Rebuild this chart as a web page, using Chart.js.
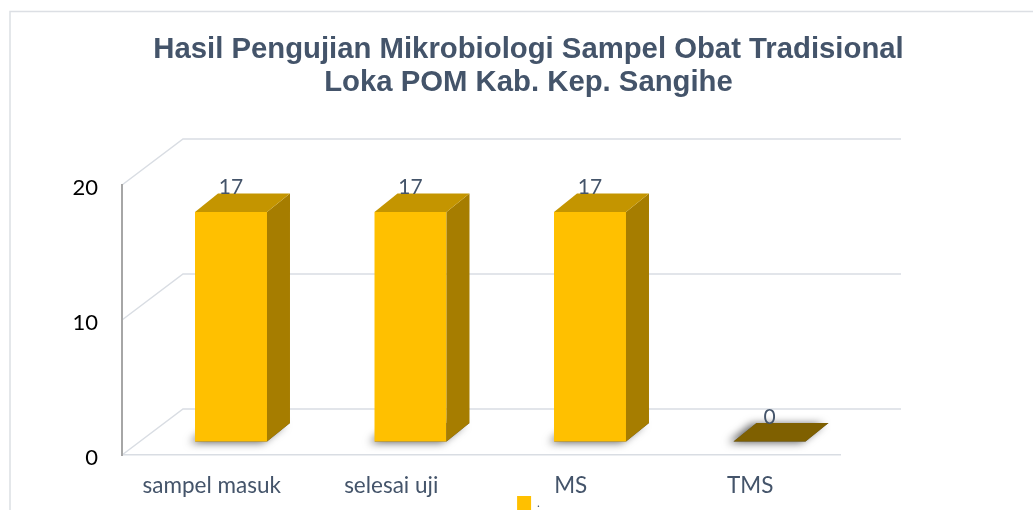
<!DOCTYPE html>
<html><head><meta charset="utf-8">
<script src="https://cdn.jsdelivr.net/npm/chart.js@4.4.0/dist/chart.umd.min.js"></script>
<style>
html,body{margin:0;padding:0;overflow:hidden;background:#fff;width:1033px;height:510px;}
#wrap{position:absolute;left:0;top:0;width:1033px;height:520px;}
</style></head><body>
<div id="wrap"><canvas id="c"></canvas></div>
<script>
// ---- data ----
const categories = ['sampel masuk', 'selesai uji', 'MS', 'TMS'];
const seriesName = '.';
const values = [17, 17, 17, 0];
const yTicks = [0, 10, 20];
const titleLines = ['Hasil Pengujian Mikrobiologi Sampel Obat Tradisional', 'Loka POM Kab. Kep. Sangihe'];

// ---- 3D style constants ----
const WALL_DX = 61, WALL_DY = -46;     // back wall offset
const BAR_FX = 19.25, BAR_FY = -13.5;  // bar front face offset into depth
const BAR_SX = 23, BAR_SY = -18.5;     // bar depth
const COL_FRONT = '#FFC000', COL_SIDE = '#A67D00', COL_TOP = '#C49500', COL_FLAT = '#7F6000';
const GRID_COL = '#D9DDE3';
const TEXT_COL = '#44546A';

function poly(ctx, pts) {
  ctx.beginPath();
  ctx.moveTo(pts[0], pts[1]);
  for (let i = 2; i < pts.length; i += 2) ctx.lineTo(pts[i], pts[i + 1]);
  ctx.closePath();
}

const frame3d = {
  id: 'frame3d',
  beforeDraw(chart) {
    const ctx = chart.ctx;
    const {left, right} = chart.chartArea;
    const ys = chart.scales.y;
    ctx.save();
    // outer chart border
    ctx.strokeStyle = '#DCDFE4';
    ctx.lineWidth = 1.5;
    ctx.beginPath();
    ctx.moveTo(10, 2000); ctx.lineTo(10, 11.5); ctx.lineTo(2000, 11.5);
    ctx.stroke();
    // back wall + side wall grid lines
    ctx.strokeStyle = GRID_COL;
    ctx.lineWidth = 1.5;
    yTicks.forEach(v => {
      const y = ys.getPixelForValue(v);
      ctx.beginPath();
      ctx.moveTo(left, y);
      ctx.lineTo(left + WALL_DX, y + WALL_DY);
      ctx.lineTo(right + WALL_DX, y + WALL_DY);
      ctx.stroke();
    });
    ctx.restore();
  },
  beforeDatasetDraw() { return false; },
  afterDatasetsDraw(chart) {
    const ctx = chart.ctx;
    const meta = chart.getDatasetMeta(0);
    ctx.save();
    const boxes = meta.data.map(bar => {
      const p = bar.getProps(['x', 'y', 'base', 'width'], true);
      const l = p.x - p.width / 2 + BAR_FX, r = p.x + p.width / 2 + BAR_FX;
      const t = Math.min(p.y, p.base) + BAR_FY, b = p.base + BAR_FY;
      return {l, r, t, b};
    });
    // shadows on the floor
    boxes.forEach(({l, r, b}) => {
      ctx.save();
      ctx.shadowColor = 'rgba(0,0,0,0.65)';
      ctx.shadowBlur = 9;
      ctx.shadowOffsetX = -5;
      ctx.shadowOffsetY = 1;
      ctx.fillStyle = '#555';
      poly(ctx, [l, b, r, b, r + BAR_SX, b + BAR_SY, l + BAR_SX, b + BAR_SY]);
      ctx.fill();
      ctx.restore();
    });
    boxes.forEach(({l, r, t, b}, i) => {
      const h = b - t;
      if (h > 0.5) {
        ctx.fillStyle = COL_FRONT;
        ctx.fillRect(l, t, r - l, h);
        ctx.fillStyle = COL_SIDE;
        poly(ctx, [r, t, r + BAR_SX, t + BAR_SY, r + BAR_SX, b + BAR_SY, r, b]);
        ctx.fill();
      }
      ctx.fillStyle = h > 0.5 ? COL_TOP : COL_FLAT;
      poly(ctx, [l, t, r, t, r + BAR_SX, t + BAR_SY, l + BAR_SX, t + BAR_SY]);
      ctx.fill();
      // data label
      ctx.fillStyle = TEXT_COL;
      ctx.font = '21px Lato';
      ctx.textAlign = 'center';
      ctx.textBaseline = 'alphabetic';
      ctx.fillText(String(values[i]), (l + r) / 2, t + BAR_SY + 0.5);
    });
    ctx.restore();
  }
};

new Chart(document.getElementById('c'), {
  type: 'bar',
  data: {
    labels: categories,
    datasets: [{
      label: seriesName,
      data: values,
      backgroundColor: COL_FRONT,
      borderWidth: 0,
      barPercentage: 0.401,
      categoryPercentage: 1.0
    }]
  },
  options: {
    responsive: true,
    maintainAspectRatio: false,
    animation: false,
    layout: {padding: {left: 24, right: 0, top: 0, bottom: 0}},
    plugins: {
      title: {
        display: true,
        text: titleLines,
        color: TEXT_COL,
        font: {family: "'Liberation Sans', Arial, sans-serif", size: 29.3, weight: 'bold', lineHeight: 1.126},
        padding: {top: 33, bottom: 86}
      },
      legend: {
        display: true,
        position: 'bottom',
        labels: {
          boxWidth: 14, boxHeight: 14, padding: 0,
          color: TEXT_COL,
          font: {family: 'Lato', size: 12}
        }
      },
      tooltip: {enabled: false}
    },
    scales: {
      x: {
        type: 'category',
        grid: {display: false, drawTicks: false},
        border: {display: true, color: GRID_COL, width: 1.5},
        // mirror + negative padding keeps labels below the axis but unclipped
        ticks: {color: TEXT_COL, font: {family: 'Lato', size: 22.5}, mirror: true, padding: -44, maxRotation: 0, autoSkip: false},
        afterFit(s) { s.height = 41; }
      },
      y: {
        type: 'linear',
        min: 0, max: 20,
        grid: {display: false, drawTicks: false},
        border: {display: true, color: '#A6A6A6', width: 2},
        ticks: {
          stepSize: 10,
          color: '#000',
          font: {family: 'Lato', size: 22},
          padding: 24,
          labelOffset: 3,
          callback: (v) => yTicks.includes(v) ? String(v) : null
        },
        afterFit(s) { s.width = 98; }
      },
      y2: {
        type: 'linear',
        position: 'right',
        display: true,
        grid: {display: false, drawTicks: false},
        border: {display: false},
        ticks: {display: false},
        afterFit(s) { s.width = 193; }
      }
    }
  },
  plugins: [frame3d]
});
</script>
</body></html>
